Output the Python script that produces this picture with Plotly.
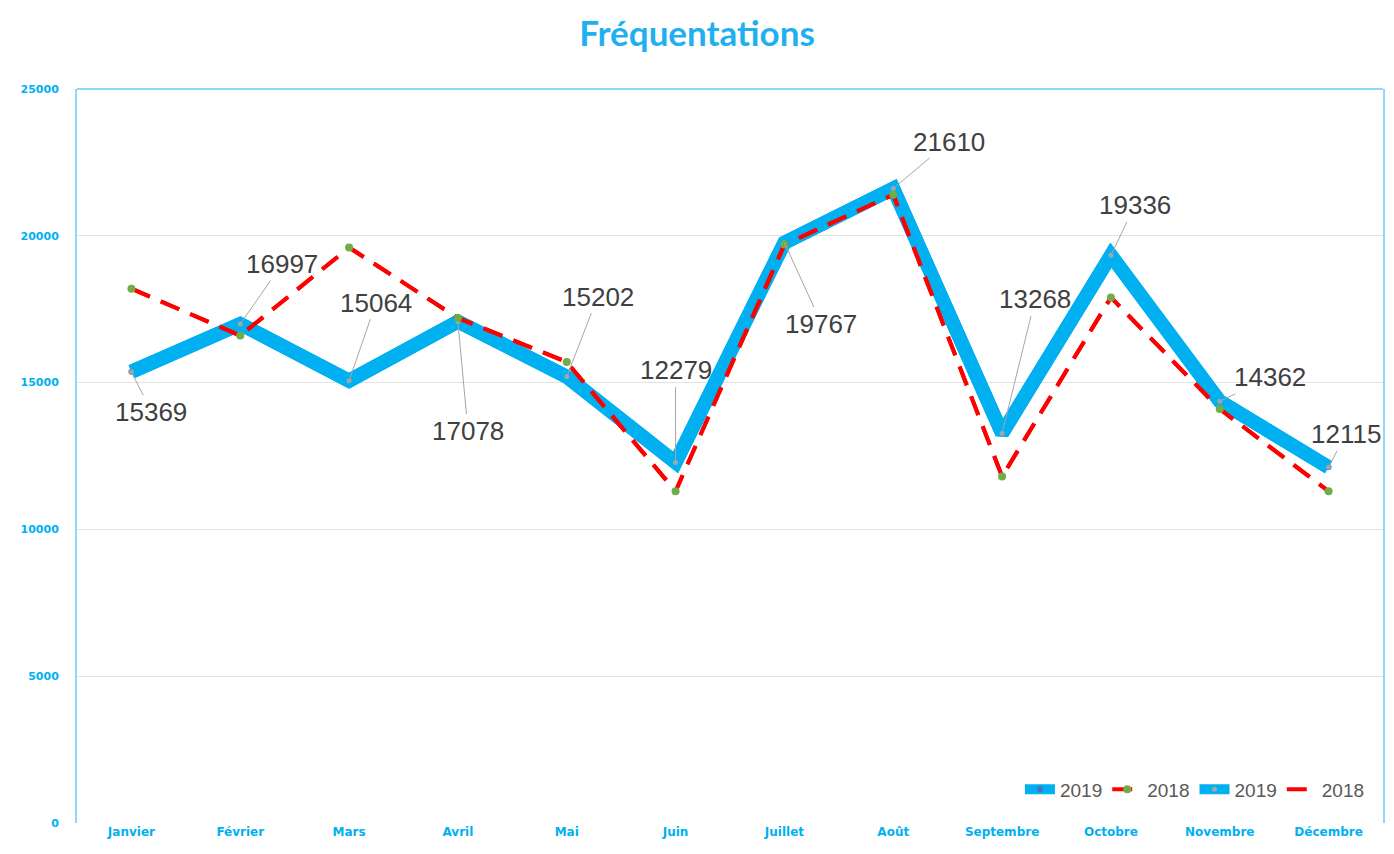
import plotly.graph_objects as go

months = ["Janvier", "Février", "Mars", "Avril", "Mai", "Juin", "Juillet",
          "Août", "Septembre", "Octobre", "Novembre", "Décembre"]
v2019 = [15369, 16997, 15064, 17078, 15202, 12279, 19767, 21610, 13268, 19336, 14362, 12115]
v2018 = [18200, 16600, 19600, 17200, 15700, 11300, 19700, 21400, 11800, 17900, 14100, 11300]
# label offsets (pixels) for data labels of 2019
label_dx = [20, 42, 27, 10, 31, 0, 37, 56, 33, 24, 50, 17]
label_dy = [40, -60, -78, 109, -80, -92, 81, -47, -134, -50, -24, -33]

BLUE = "#00B0F0"
RED = "#FF0000"
GREEN = "#70AD47"
DASH = "20px,12px"

fig = go.Figure()
fig.add_trace(go.Scatter(x=months, y=v2019, name="2019", mode="lines+markers",
                         line=dict(color=BLUE, width=14),
                         marker=dict(color="#4472C4", size=6), legendrank=1))
fig.add_trace(go.Scatter(x=months, y=v2019, name="2019", mode="lines+markers",
                         line=dict(color=BLUE, width=14),
                         marker=dict(color="#A5A5A5", size=5), legendrank=3))
fig.add_trace(go.Scatter(x=months, y=v2018, name="2018", mode="lines",
                         line=dict(color=RED, width=4, dash=DASH), legendrank=4))
fig.add_trace(go.Scatter(x=months, y=v2018, name="2018", mode="lines+markers",
                         line=dict(color=RED, width=4, dash=DASH),
                         marker=dict(color=GREEN, size=8), legendrank=2))

for m, v, dx, dy in zip(months, v2019, label_dx, label_dy):
    fig.add_annotation(x=m, y=v, text=str(v), showarrow=True, arrowhead=0,
                       arrowcolor="#A6A6A6", arrowwidth=1, ax=dx, ay=dy,
                       font=dict(family="Liberation Sans", size=26, color="#404040"))

fig.add_shape(type="line", xref="paper", yref="paper", x0=0, x1=1, y0=1, y1=1,
              line=dict(color="#8FD8F8", width=2))

fig.update_layout(
    width=1394, height=854,
    paper_bgcolor="white", plot_bgcolor="white",
    margin=dict(l=77, r=11, t=89, b=31),
    title=dict(text="Fréquentations", x=0.5, xref="container", y=0.961, yanchor="middle",
               font=dict(family="Lato", size=35, color="#1FB0F0", weight="bold")),
    showlegend=True,
    legend=dict(orientation="h", x=0.99, xanchor="right", y=0.02, yanchor="bottom",
                bgcolor="rgba(0,0,0,0)", font=dict(family="Liberation Sans", size=19, color="#595959"),
                itemwidth=30, traceorder="normal"),
    xaxis=dict(range=[-0.5, 11.5], showgrid=False, showline=False, ticks="", zeroline=False,
               automargin=False,
               tickfont=dict(family="DejaVu Sans", size=12, color=BLUE, weight="bold")),
    yaxis=dict(range=[0, 25000], dtick=5000, tickformat="d", showgrid=True, gridcolor="#E3E3E3",
               gridwidth=1, automargin=False,
               showline=True, mirror=True, linecolor="#8FD8F8", linewidth=2, zeroline=False,
               ticks="", ticklabelstandoff=14,
               tickfont=dict(family="DejaVu Sans", size=11, color=BLUE, weight="bold")),
)

fig.write_html("out.html", config={"displayModeBar": False},
               post_script="document.body.style.margin='0';document.body.style.overflow='hidden';")
